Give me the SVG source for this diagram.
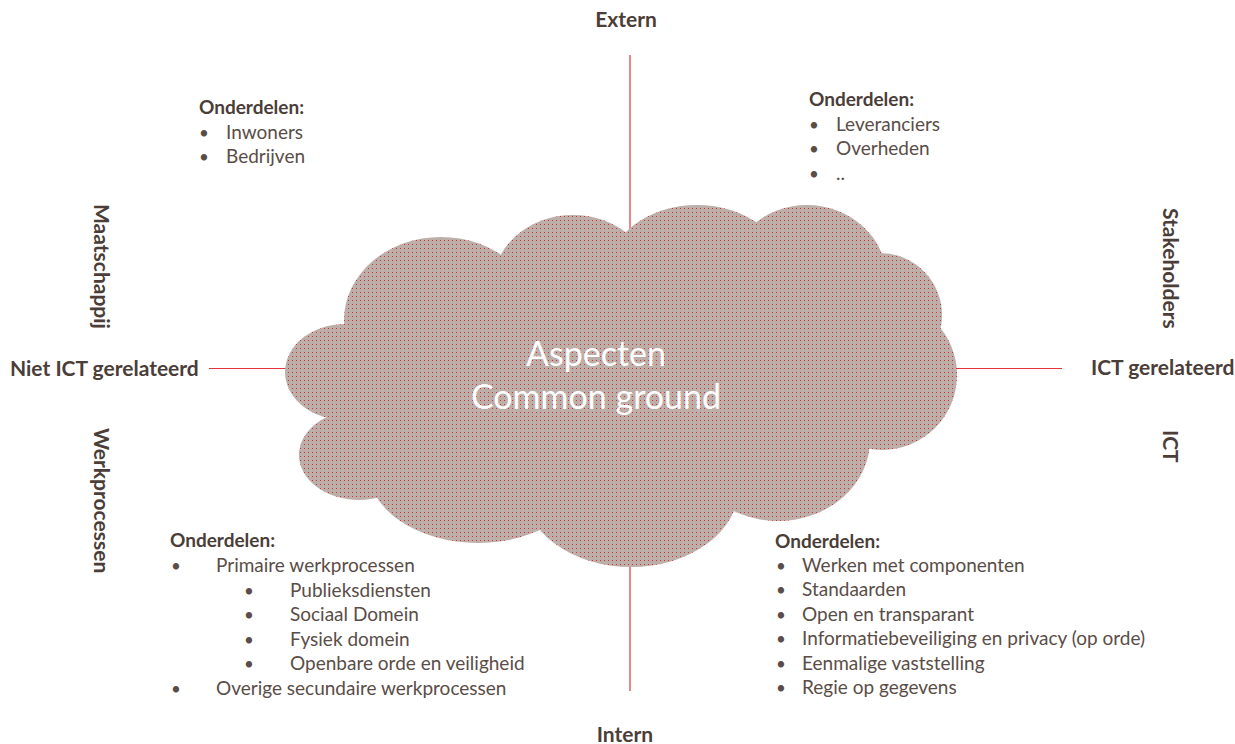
<svg xmlns="http://www.w3.org/2000/svg" width="1235" height="744" viewBox="0 0 1235 744">
  <style>
    .lbl { font-family: Lato, "Liberation Sans", sans-serif; font-weight: bold; font-size: 21px; fill: #4b3d37; }
    .hd { font-family: Lato, "Liberation Sans", sans-serif; font-weight: bold; font-size: 19px; fill: #4b3d37; }
    .it { font-family: Lato, "Liberation Sans", sans-serif; font-size: 19px; fill: #5a4d47; }
    .bu { font-family: Lato, "Liberation Sans", sans-serif; font-size: 17px; fill: #5a4d47; }
    .cl { font-family: Lato, "Liberation Sans", sans-serif; font-size: 34px; fill: #ffffff; text-anchor: middle; }
    .ax { stroke: #e5323c; stroke-width: 1.2; fill: none; }
  </style>
  <defs>
    <pattern id="dots" patternUnits="userSpaceOnUse" width="4" height="4">
      <rect width="4" height="4" fill="#bcaea8"/>
      <rect x="0" y="0" width="1" height="1" fill="#dc2a32"/>
    </pattern>
  </defs>
  <rect width="1235" height="744" fill="#ffffff"/>

  <g id="connectors">
    <line class="ax" x1="630" y1="55" x2="630" y2="691"/>
    <line class="ax" x1="209" y1="368.5" x2="1062" y2="368.5"/>
  </g>

  <g id="cloud" fill="url(#dots)">
    <ellipse cx="620" cy="380" rx="280" ry="130"/>
    <ellipse cx="345" cy="372" rx="60" ry="48"/>
    <ellipse cx="441" cy="320" rx="97" ry="83"/>
    <ellipse cx="573" cy="285" rx="80" ry="70"/>
    <ellipse cx="697" cy="275" rx="90" ry="70"/>
    <ellipse cx="807" cy="280" rx="80" ry="75"/>
    <circle cx="880" cy="315" r="62"/>
    <circle cx="882" cy="375" r="75"/>
    <ellipse cx="778" cy="440" rx="92" ry="81"/>
    <ellipse cx="631" cy="487" rx="108" ry="80"/>
    <ellipse cx="478" cy="468" rx="110" ry="75"/>
    <ellipse cx="359" cy="455" rx="60" ry="45"/>
    <text class="cl" x="596" y="366">Aspecten</text>
    <text class="cl" x="596" y="409">Common ground</text>
  </g>

  <g id="label-extern"><text class="lbl" x="626" y="27" text-anchor="middle">Extern</text></g>
  <g id="label-intern"><text class="lbl" x="625" y="742" text-anchor="middle">Intern</text></g>
  <g id="label-niet-ict"><text class="lbl" x="10" y="376">Niet ICT gerelateerd</text></g>
  <g id="label-ict-gerelateerd"><text class="lbl" x="1091" y="375">ICT gerelateerd</text></g>
  <g id="label-maatschappij"><text class="lbl" transform="translate(94 204) rotate(90)">Maatschappij</text></g>
  <g id="label-werkprocessen"><text class="lbl" transform="translate(94 428) rotate(90)">Werkprocessen</text></g>
  <g id="label-stakeholders"><text class="lbl" transform="translate(1163 208) rotate(90)">Stakeholders</text></g>
  <g id="label-ict"><text class="lbl" transform="translate(1163 430) rotate(90)">ICT</text></g>

  <g id="block-maatschappij">
    <text class="hd" x="199" y="114">Onderdelen:</text>
    <text class="bu" x="199" y="139">•</text><text class="it" x="226" y="139">Inwoners</text>
    <text class="bu" x="199" y="163">•</text><text class="it" x="226" y="163">Bedrijven</text>
  </g>

  <g id="block-stakeholders">
    <text class="hd" x="809" y="106">Onderdelen:</text>
    <text class="bu" x="809" y="131">•</text><text class="it" x="836" y="131">Leveranciers</text>
    <text class="bu" x="809" y="155">•</text><text class="it" x="836" y="155">Overheden</text>
    <text class="bu" x="809" y="180">•</text><text class="it" x="836" y="180">..</text>
  </g>

  <g id="block-werkprocessen">
    <text class="hd" x="170" y="547">Onderdelen:</text>
    <text class="bu" x="171" y="572">•</text><text class="it" x="216" y="572">Primaire werkprocessen</text>
    <text class="bu" x="244" y="597">•</text><text class="it" x="290" y="597">Publieksdiensten</text>
    <text class="bu" x="244" y="621">•</text><text class="it" x="290" y="621">Sociaal Domein</text>
    <text class="bu" x="244" y="646">•</text><text class="it" x="290" y="646">Fysiek domein</text>
    <text class="bu" x="244" y="670">•</text><text class="it" x="290" y="670">Openbare orde en veiligheid</text>
    <text class="bu" x="171" y="695">•</text><text class="it" x="216" y="695">Overige secundaire werkprocessen</text>
  </g>

  <g id="block-ict">
    <text class="hd" x="775" y="548">Onderdelen:</text>
    <text class="bu" x="776" y="572">•</text><text class="it" x="802" y="572">Werken met componenten</text>
    <text class="bu" x="776" y="596">•</text><text class="it" x="802" y="596">Standaarden</text>
    <text class="bu" x="776" y="621">•</text><text class="it" x="802" y="621">Open en transparant</text>
    <text class="bu" x="776" y="645">•</text><text class="it" x="802" y="645">Informatiebeveiliging en privacy (op orde)</text>
    <text class="bu" x="776" y="670">•</text><text class="it" x="802" y="670">Eenmalige vaststelling</text>
    <text class="bu" x="776" y="694">•</text><text class="it" x="802" y="694">Regie op gegevens</text>
  </g>
</svg>
